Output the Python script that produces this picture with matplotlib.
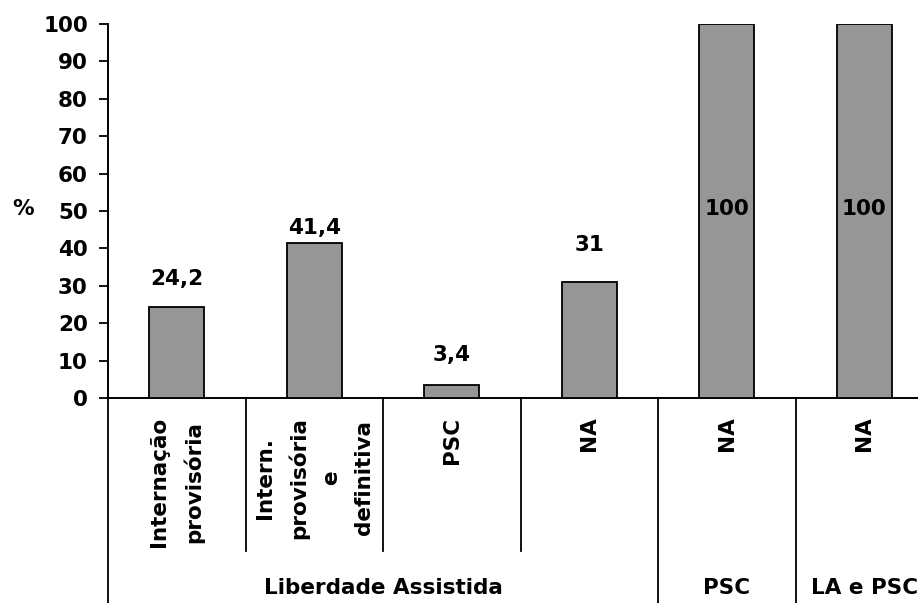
import matplotlib.pyplot as plt
import numpy as np

categorias = ["Internação\nprovisória", "Intern.\nprovisória\ne\ndefinitiva", "PSC", "NA", "NA", "NA"]
valores = [24.2, 41.4, 3.4, 31, 100, 100]
grupos = ["Liberdade Assistida", "PSC", "LA e PSC"]
grupo_inicio = [0, 4, 5]
grupo_fim = [4, 5, 6]

# where each value label sits (y in data units)
label_y = [31.8, 45.5, 11.5, 40.9, 50.5, 50.5]

plt.rcParams['font.family'] = 'DejaVu Sans'
plt.rcParams['font.weight'] = 'bold'
fs = 15.5

fig = plt.figure(figsize=(9.18, 6.03), dpi=100)
ax = fig.add_axes([108/918, 205/603, 810/918, 374/603])

x = np.arange(len(valores)) + 0.5
ax.bar(x, valores, width=0.4, color='#969696', edgecolor='black', linewidth=1.3, zorder=3)

for xi, v, ly in zip(x, valores, label_y):
    txt = f"{v:g}".replace('.', ',')
    ax.text(xi, ly, txt, ha='center', va='center', fontsize=fs, fontweight='bold', zorder=4)

ax.set_xlim(0, 810/137.5)
ax.set_ylim(0, 100)
ax.set_yticks(range(0, 101, 10))
ax.tick_params(axis='y', direction='out', length=6.5, width=1.3, pad=8, labelsize=fs)
for t in ax.get_yticklabels():
    t.set_fontweight('bold')
ax.set_xticks([])
ax.spines['top'].set_visible(False)
ax.spines['right'].set_visible(False)
ax.spines['left'].set_linewidth(1.4)
ax.spines['bottom'].set_linewidth(1.4)

ax.text(-0.118, 0.505, "%", transform=ax.transAxes, ha='left', va='center', fontsize=fs, fontweight='bold')

trans = ax.get_xaxis_transform()

# category labels under each bar
for xi, cat in zip(x, categorias):
    ax.text(xi, -0.05, cat, transform=trans, rotation=90, ha='center', va='top',
            multialignment='center', linespacing=1.75, fontsize=fs, fontweight='bold',
            clip_on=False)

# dividers between categories and groups
limites_grupo = set(grupo_inicio)
for b in range(6):
    fundo = -0.56 if b in limites_grupo else -0.409
    ax.plot([b, b], [0, fundo], transform=trans, color='black', linewidth=1.3, clip_on=False)

for g, a, b in zip(grupos, grupo_inicio, grupo_fim):
    ax.text((a + b) / 2, -0.508, g, transform=trans, ha='center', va='center',
            fontsize=fs, fontweight='bold', clip_on=False)

fig.savefig("out.png", dpi=100)
